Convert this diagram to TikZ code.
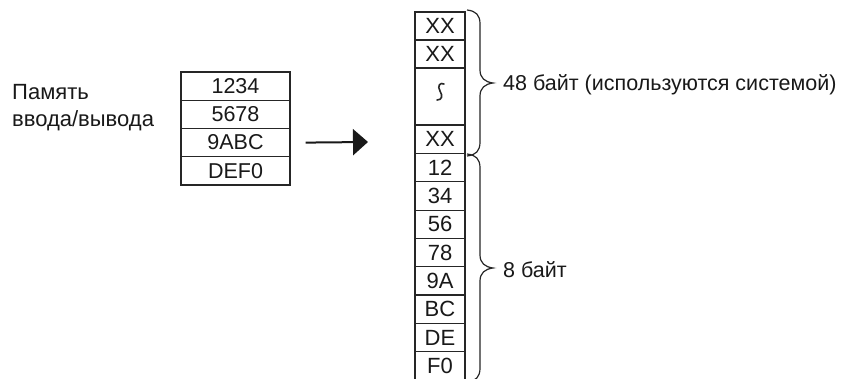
\documentclass[tikz,border=0pt]{standalone}
\usepackage{fontspec}
\setmainfont{Liberation Sans}
\usetikzlibrary{arrows.meta}
\begin{document}
\begin{tikzpicture}[x=1pt,y=-1pt,
  txt/.style={inner sep=0pt, font=\fontsize{21.5}{25}\selectfont, text=black!90},
  iocell/.style={draw=black!85, line width=1.1pt, minimum width=109pt, minimum height=28.25pt, inner sep=0pt, font=\fontsize{21.5}{25}\selectfont, text=black!90},
  colcell/.style={draw=black!85, line width=1.1pt, minimum width=50pt, minimum height=28.3pt, inner sep=0pt, font=\fontsize{22}{25}\selectfont, text=black!90},
  bracepath/.style={draw=black!85, line width=1.2pt},
  flowarrow/.style={draw=black!90, line width=2pt, -{Triangle[length=15pt,width=26pt]}}
]
\clip (0,0) rectangle (845,379);
\fill[white] (0,0) rectangle (845,379);

% label
\node[txt, anchor=base west, font=\fontsize{22}{25}\selectfont] (mem) at (12,100) {Память};
\node[txt, anchor=base west, font=\fontsize{22}{25}\selectfont] (io) at (12,127) {ввода/вывода};

% I/O memory table
\node[iocell] (r1) at (235.5,86.1) {1234};
\node[iocell] (r2) at (235.5,114.4) {5678};
\node[iocell] (r3) at (235.5,142.6) {9ABC};
\node[iocell] (r4) at (235.5,170.9) {DEF0};

% arrow
\coordinate (as) at ([xshift=15pt]r3.east);
\coordinate (ae) at (368,142);
\draw[flowarrow] (as) -- (ae);

% column
\node[colcell, minimum height=28pt] (x1) at (440,26) {XX};
\node[colcell, minimum height=28pt] (x2) at (440,54) {XX};
\node[colcell, minimum height=57pt] (xe) at (440,96.5) {};
\node[colcell, minimum height=28.5pt] (x3) at (440,139.25) {XX};
\node[colcell] (d1) at (440,167.65) {12};
\node[colcell] (d2) at (440,195.95) {34};
\node[colcell] (d3) at (440,224.25) {56};
\node[colcell] (d4) at (440,252.55) {78};
\node[colcell] (d5) at (440,280.85) {9A};
\node[colcell] (d6) at (440,309.15) {BC};
\node[colcell] (d7) at (440,337.45) {DE};
\node[colcell] (d8) at (440,365.75) {F0};

% squiggle (vertical ellipsis)
\draw[black!85, line width=1.6pt, line cap=round] (444,84) .. controls (440,82) and (437,86) .. (440,91) .. controls (443,96) and (442,100) .. (437,100);

% braces
\draw[bracepath] (467,10) .. controls (476,11) and (480,15) .. (480,24) -- (480,70)
  .. controls (480,78) and (485,82) .. (493,83)
  .. controls (485,84) and (480,88) .. (480,96) -- (480,142)
  .. controls (480,151) and (476,155) .. (467,156);
\draw[bracepath] (467,154) .. controls (476,155) and (480,159) .. (480,168) -- (480,255)
  .. controls (480,263) and (485,267) .. (493,268)
  .. controls (485,269) and (480,273) .. (480,281) -- (480,368)
  .. controls (480,377) and (476,381) .. (467,382);

\node[txt, anchor=base west] (b48) at (503,91) {48 байт (используются системой)};
\node[txt, anchor=base west] (b8) at (503,277) {8 байт};
\end{tikzpicture}
\end{document}
